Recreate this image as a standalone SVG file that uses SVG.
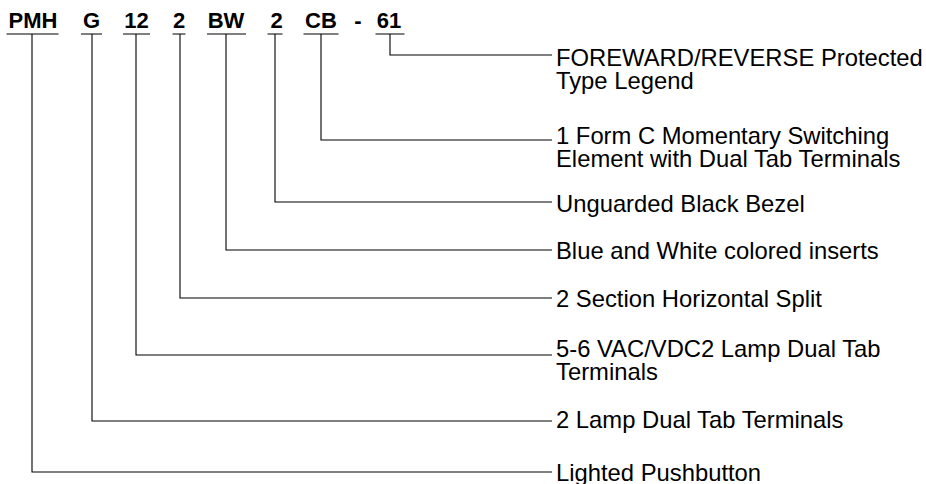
<svg xmlns="http://www.w3.org/2000/svg" width="926" height="484" viewBox="0 0 926 484">
<style>
.code{font-family:"Liberation Sans",Arial,sans-serif;font-weight:bold;font-size:22px;fill:#000;text-anchor:middle}
.lbl{font-family:"Liberation Sans",Arial,sans-serif;font-size:23.8px;fill:#000}
.ln{stroke:#000;stroke-width:1.1;fill:none}
</style>
<rect width="926" height="484" fill="#fff"/>
<g id="code">
<text class="code" x="33" y="27.5">PMH</text>
<text class="code" x="91.5" y="27.5">G</text>
<text class="code" x="136.5" y="27.5">12</text>
<text class="code" x="179" y="27.5">2</text>
<text class="code" x="226" y="27.5">BW</text>
<text class="code" x="276.5" y="27.5">2</text>
<text class="code" x="321" y="27.5">CB</text>
<text class="code" x="358" y="27.5">-</text>
<text class="code" x="389" y="27.5">61</text>
</g>
<g id="connectors" class="ln">
<path d="M6.5 34H58.5M32 34V472H552"/>
<path d="M81 34H102M92 34V421H552"/>
<path d="M123 34H150M136 34V355H552"/>
<path d="M172.5 34H185.5M180 34V298H552"/>
<path d="M207 34H246M226 34V250H552"/>
<path d="M267.5 34H282.5M275 34V202H552"/>
<path d="M303.5 34H338.5M321 34V140H552"/>
<path d="M375.5 34H404.5M390 34V55H552"/>
</g>
<g id="n61"><text class="lbl" x="556" y="66">FOREWARD/REVERSE Protected<tspan x="556" dy="23">Type Legend</tspan></text></g>
<g id="nCB"><text class="lbl" x="556" y="144">1 Form C Momentary Switching<tspan x="556" dy="23">Element with Dual Tab Terminals</tspan></text></g>
<g id="n2b"><text class="lbl" x="556" y="211.5">Unguarded Black Bezel</text></g>
<g id="nBW"><text class="lbl" x="556" y="259">Blue and White colored inserts</text></g>
<g id="n2a"><text class="lbl" x="556" y="307">2 Section Horizontal Split</text></g>
<g id="n12"><text class="lbl" x="556" y="357">5-6 VAC/VDC2 Lamp Dual Tab<tspan x="556" dy="23">Terminals</tspan></text></g>
<g id="nG"><text class="lbl" x="556" y="427.5">2 Lamp Dual Tab Terminals</text></g>
<g id="nPMH"><text class="lbl" x="556" y="480.5">Lighted Pushbutton</text></g>
</svg>
